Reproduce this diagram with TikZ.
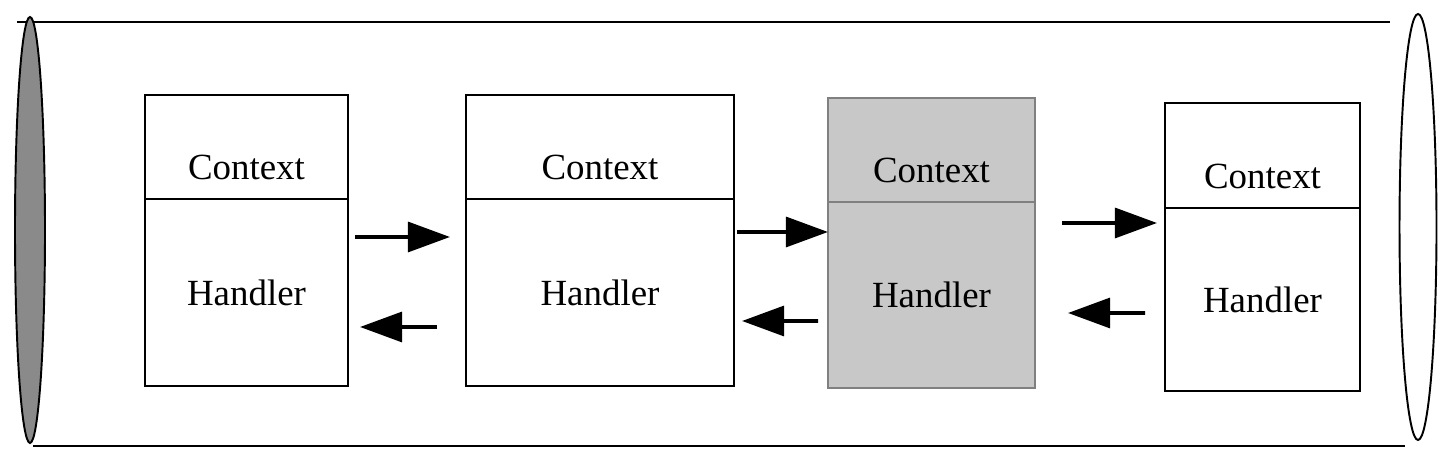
\documentclass[tikz,border=0pt]{standalone}
\usepackage{fontspec}
\setmainfont{Liberation Serif}
\usetikzlibrary{arrows.meta,calc}
\definecolor{cellgray}{HTML}{C8C8C8}
\definecolor{edgegray}{HTML}{808080}
\definecolor{capgray}{HTML}{8A8A8A}
\tikzset{
    ctx/.style={draw,line width=1.1pt,inner sep=0pt,outer sep=0pt,
        text height=1.32cm,text depth=0pt,font=\fontsize{21}{25}\selectfont},
    hdl/.style={draw,line width=1.1pt,inner sep=0pt,outer sep=0pt,
        anchor=north,font=\fontsize{21}{25}\selectfont},
    shaded/.style={fill=cellgray,draw=edgegray},
    flow/.style={line width=2.2pt,-{Triangle[length=24pt,width=17pt]}}
}

\begin{document}
\begin{tikzpicture}
	\useasboundingbox (0,0) rectangle (28.96,9.28);

	% pipeline
	\draw[line width=1.1pt] (0.34,8.84) -- (27.8,8.84);
	\draw[line width=1.1pt] (0.66,0.36) -- (28.1,0.36);
	\draw[line width=1.1pt,fill=capgray] (0.6,4.68) ellipse [x radius=0.3,y radius=4.26];
	\draw[line width=1.1pt,fill=white] (28.36,4.74) ellipse [x radius=0.37,y radius=4.26];

	\node[ctx,minimum width=4.06cm,minimum height=2.08cm] (ctx1) at (4.93,6.34) {Context};
	\node[hdl,minimum width=4.06cm,minimum height=3.74cm] (hdl1) at (ctx1.south) {Handler};
	\node[ctx,minimum width=5.36cm,minimum height=2.08cm] (ctx2) at (12.0,6.34) {Context};
	\node[hdl,minimum width=5.36cm,minimum height=3.74cm] (hdl2) at (ctx2.south) {Handler};
	\node[ctx,shaded,minimum width=4.14cm,minimum height=2.08cm] (ctx3) at (18.63,6.28) {Context};
	\node[hdl,shaded,minimum width=4.14cm,minimum height=3.72cm] (hdl3) at (ctx3.south) {Handler};
	\node[ctx,minimum width=3.90cm,minimum height=2.10cm] (ctx4) at (25.25,6.17) {Context};
	\node[hdl,minimum width=3.90cm,minimum height=3.66cm] (hdl4) at (ctx4.south) {Handler};

	\draw[flow,shorten <=0.14cm,shorten >=0.32cm] ([yshift=1.11cm]hdl1.east) -- ([yshift=1.11cm]hdl2.west);
	\draw[flow,shorten <=0.58cm,shorten >=0.24cm] ([yshift=-0.69cm]hdl2.west) -- ([yshift=-0.69cm]hdl1.east);
	\draw[flow,shorten <=0.06cm] ([yshift=1.21cm]hdl2.east) -- ([yshift=1.26cm]hdl3.west);
	\draw[flow,shorten <=0.20cm,shorten >=0.16cm] ([yshift=-0.52cm]hdl3.west) -- ([yshift=-0.57cm]hdl2.east);
	\draw[flow,shorten <=0.54cm,shorten >=0.16cm] ([yshift=1.44cm]hdl3.east) -- ([yshift=1.53cm]hdl4.west);
	\draw[flow,shorten <=0.40cm,shorten >=0.66cm] ([yshift=-0.27cm]hdl4.west) -- ([yshift=-0.36cm]hdl3.east);

\end{tikzpicture}
\end{document}
